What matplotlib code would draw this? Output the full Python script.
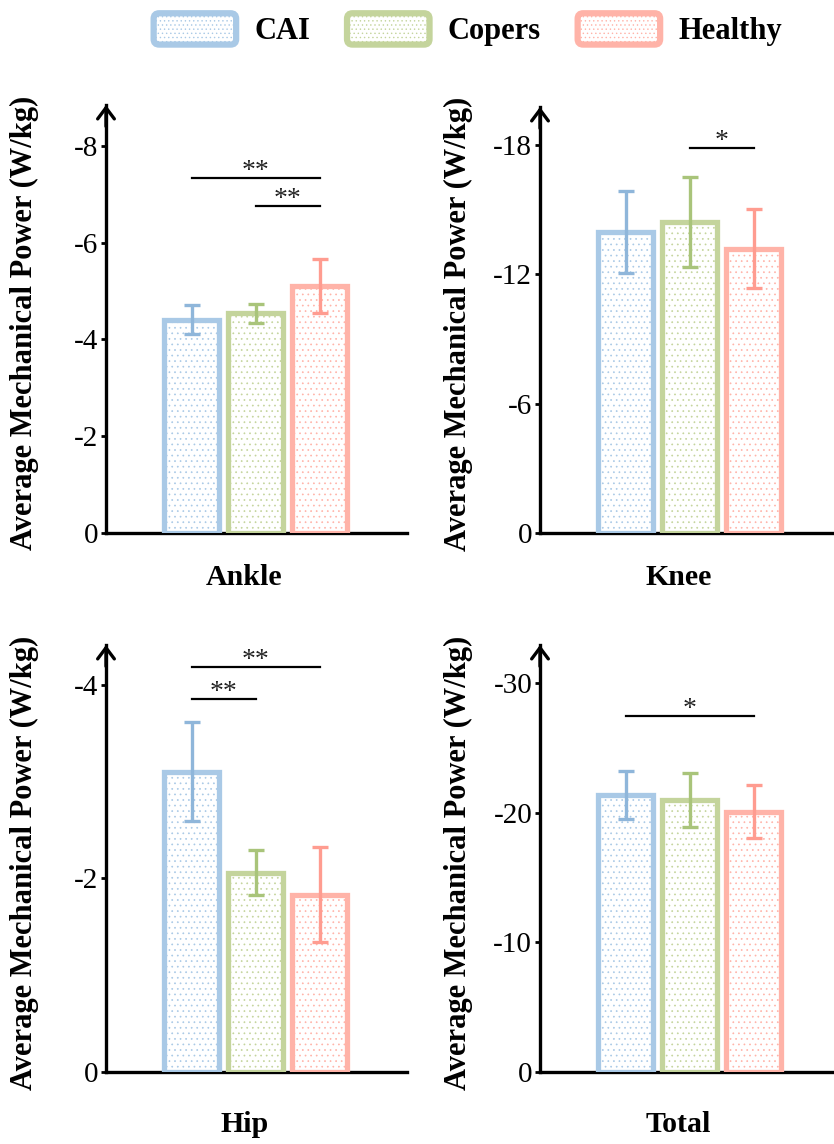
import matplotlib
matplotlib.use('Agg')
import matplotlib.pyplot as plt
from matplotlib.patches import Patch, FancyBboxPatch
from matplotlib.legend_handler import HandlerPatch

plt.rcParams['font.family'] = ['Liberation Serif', 'DejaVu Serif']
plt.rcParams['axes.unicode_minus'] = False
plt.rcParams['hatch.linewidth'] = 0.5

# groups and colours
groups = ['CAI', 'Copers', 'Healthy']
edge_colors = ['#a9c9e6', '#c4d49c', '#ffb3a8']
err_colors = ['#8fb6da', '#a9c47a', '#ff9c90']

# mean / sd for each joint (W/kg)
ankle_mean = [-4.40, -4.54, -5.10]
ankle_sd = [0.30, 0.20, 0.55]
knee_mean = [-13.97, -14.43, -13.20]
knee_sd = [1.90, 2.08, 1.85]
hip_mean = [-3.10, -2.06, -1.83]
hip_sd = [0.51, 0.23, 0.49]
total_mean = [-21.4, -21.0, -20.1]
total_sd = [1.85, 2.10, 2.05]

ankle_ticks = [0, -2, -4, -6, -8]
knee_ticks = [0, -6, -12, -18]
hip_ticks = [0, -2, -4]
total_ticks = [0, -10, -20, -30]

# significance brackets: (group a, group b, level, stars)
ankle_sig = [(0, 2, -7.33, '**'), (1, 2, -6.76, '**')]
knee_sig = [(1, 2, -17.87, '*')]
hip_sig = [(0, 2, -4.18, '**'), (0, 1, -3.85, '**')]
total_sig = [(0, 2, -27.5, '*')]

W, H = 834, 1144
fig = plt.figure(figsize=(W / 100, H / 100), dpi=100)

xpos = [-1, 0, 1]


def draw_panel(left_px, top_px, bottom_px, name, means, sds, ticks, ytop, sigs, lab_y):
    ax = fig.add_axes([left_px / W, 1 - bottom_px / H, 301 / W, (bottom_px - top_px) / H])
    # hatched fill, then thick outline
    ax.bar(xpos, means, 0.86, color='white', edgecolor=edge_colors, hatch='...', lw=0, zorder=2)
    ax.bar(xpos, means, 0.86, fill=False, edgecolor=edge_colors, lw=3.8, zorder=3)
    for i in range(3):
        ax.errorbar(xpos[i], means[i], yerr=sds[i], fmt='none', ecolor=err_colors[i],
                    elinewidth=2.4, capsize=5.5, capthick=2.4, zorder=4)
    for a, b, lev, stars in sigs:
        ax.plot([xpos[a], xpos[b]], [lev, lev], color='black', lw=1.6, zorder=5)
        ax.text((xpos[a] + xpos[b]) / 2, lev, stars, ha='center', va='baseline',
                fontsize=20, color='#222222')
    ax.set_xlim(-2.34, 2.36)
    ax.set_ylim(0, ytop)
    ax.set_yticks(ticks)
    ax.set_yticklabels([str(t) for t in ticks])
    ax.set_xticks([0])
    ax.set_xticklabels([])
    ax.tick_params(axis='y', direction='out', length=3.6, width=2, labelsize=21, pad=2)
    ax.tick_params(axis='x', direction='in', length=3, width=2)
    for s in ['top', 'right']:
        ax.spines[s].set_visible(False)
    for s in ['left', 'bottom']:
        ax.spines[s].set_linewidth(2.4)
    ax.annotate('', xy=(0, 1), xycoords='axes fraction', xytext=(0, 0.95),
                arrowprops=dict(arrowstyle='->,head_length=0.4,head_width=0.3', lw=2.4,
                                color='black', shrinkA=0, shrinkB=0, mutation_scale=20))
    ax.text(-0.27, 0.49, 'Average Mechanical Power (W/kg)', transform=ax.transAxes,
            rotation=90, ha='center', va='center', fontsize=22, weight='bold')
    ax.text(0.46, lab_y, name, transform=ax.transAxes, ha='center', va='center',
            fontsize=21.5, weight='bold')
    return ax


draw_panel(106, 105, 533, 'Ankle', ankle_mean, ankle_sd, ankle_ticks, -8.84, ankle_sig, -0.105)
draw_panel(540, 107, 533, 'Knee', knee_mean, knee_sd, knee_ticks, -19.77, knee_sig, -0.105)
draw_panel(106, 645, 1072, 'Hip', hip_mean, hip_sd, hip_ticks, -4.41, hip_sig, -0.122)
draw_panel(540, 645, 1072, 'Total', total_mean, total_sd, total_ticks, -32.97, total_sig, -0.122)


def rounded(legend, orig_handle, xdescent, ydescent, width, height, fontsize):
    return FancyBboxPatch((-xdescent, -ydescent), width, height,
                          boxstyle='round,pad=0,rounding_size=4')


handles = [Patch(facecolor='white', edgecolor=c, hatch='....', lw=4.5) for c in edge_colors]
fig.legend(handles, groups, loc='center', bbox_to_anchor=(0.561, 0.974), ncol=3,
           frameon=False, prop=dict(weight='bold', size=22), handlelength=2.7,
           handleheight=1.2, handletextpad=0.6, columnspacing=1.2,
           handler_map={Patch: HandlerPatch(patch_func=rounded)})

fig.savefig('out.png', dpi=100)
